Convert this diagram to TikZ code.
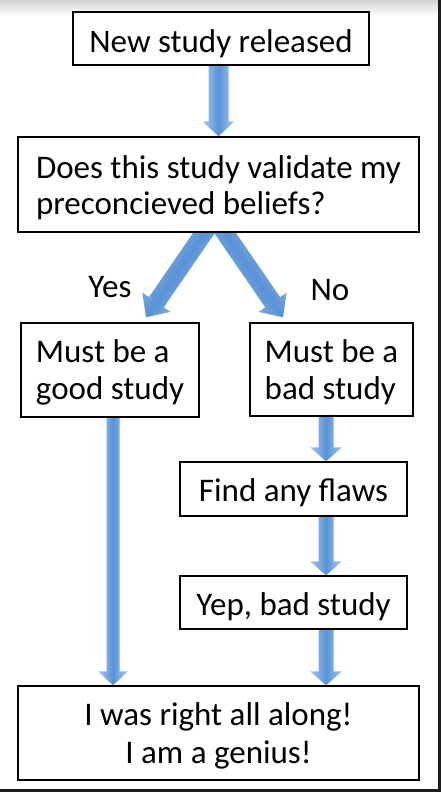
\documentclass[tikz,border=0pt]{standalone}
\usepackage{fontspec}
\setmainfont{Carlito}
\usetikzlibrary{calc,backgrounds}
\definecolor{arrowmid}{RGB}{88,146,214}
\definecolor{arrowedge}{RGB}{168,202,238}
\definecolor{framedark}{RGB}{28,28,28}
\newcommand\blockarrow[5]{%
  \path[arrowbody] let \p1=(#1), \p2=(#2),
    \n1={atan2(\y2-\y1,\x2-\x1)}, \n2={veclen(\x2-\x1,\y2-\y1)} in
    [shading angle=\n1]
    ($(\p1)+(\n1+90:#3pt)$)
    -- ($(\p1)+(\n1:{(\n2-#5)*1pt})+(\n1+90:#3pt)$)
    -- ($(\p1)+(\n1:{(\n2-#5)*1pt})+(\n1+90:#4pt)$)
    -- (\p2)
    -- ($(\p1)+(\n1:{(\n2-#5)*1pt})+(\n1-90:#4pt)$)
    -- ($(\p1)+(\n1:{(\n2-#5)*1pt})+(\n1-90:#3pt)$)
    -- ($(\p1)+(\n1-90:#3pt)$) -- cycle;}
% first-line height and last-line depth struts (fix vertical text placement)
\newcommand\tstrut[1]{\rule{0pt}{#1pt}}
\newcommand\bstrut{\rule[-10pt]{0pt}{0pt}}
\tikzset{
  box/.style={draw=black, line width=1.4pt, fill=white, inner sep=0pt,
    font=\fontsize{33}{36.5}\selectfont},
  leftbox/.style={box, align=left},
  centerbox/.style={box, align=center},
  answer/.style={inner sep=0pt, font=\fontsize{33}{36.5}\selectfont},
  arrowbody/.style={left color=arrowedge, right color=arrowedge, middle color=arrowmid}
}
\begin{document}
\begin{tikzpicture}[x=1pt,y=-1pt]
\useasboundingbox (0,0) rectangle (441,792);

% boxes
\node[centerbox, minimum width=296pt, minimum height=53pt] (b1) at (221,38.5)
  {\tstrut{38}New study released\bstrut};
\node[leftbox, minimum width=401pt, minimum height=95pt] (b2) at (218.5,184.5)
  {\tstrut{33.5}Does this study validate my\\preconcieved beliefs?\bstrut};
\node[leftbox, minimum width=178pt, minimum height=94pt] (b3) at (110,370)
  {\tstrut{32}Must be a\\good study\bstrut};
\node[leftbox, minimum width=163pt, minimum height=93pt] (b4) at (331.5,369.5)
  {\tstrut{33}Must be a\\bad study\bstrut};
\node[centerbox, minimum width=227pt, minimum height=54pt] (b5) at (293.5,489)
  {\tstrut{34}Find any flaws\bstrut};
\node[centerbox, minimum width=227pt, minimum height=53pt] (b6) at (293.5,602.5)
  {\tstrut{35}Yep, bad study\bstrut};
\node[centerbox, minimum width=401pt, minimum height=94pt,
      font=\fontsize{33}{38}\selectfont] (b7) at (218.5,733)
  {\tstrut{32}I was right all along!\\I am a genius!\bstrut};

\node[answer] (yes) at (110,287) {Yes};
\node[answer] (no) at (330,290) {No};

% connector end points
\coordinate (l1) at ($(b3.south)+(3,0)$);
\coordinate (l2) at (l1 |- b7.north);
\coordinate (r1) at ($(b4.south)+(-5.5,0)$);
\coordinate (r2) at (r1 |- b5.north);
\coordinate (r3) at (r1 |- b5.south);
\coordinate (r4) at (r1 |- b6.north);
\coordinate (r5) at (r1 |- b6.south);
\coordinate (r6) at (r1 |- b7.north);
\coordinate (t1) at (b1.south -| b2.north);
\coordinate (ys) at ($(b2.south)+(-7.5,-10)$);
\coordinate (ye) at ($(b3.north)+(36,-5)$);
\coordinate (ns) at ($(b2.south)+(-0.5,-10)$);
\coordinate (ne) at ($(b4.north)+(-48.5,-5)$);

\begin{pgfonlayer}{background}
\fill[white] (0,0) rectangle (441,792);
\shade[top color=black!17, bottom color=white] (0,0) rectangle (441,16);
\fill[framedark] (438,0) rectangle (441,792);
\fill[framedark] (0,789) rectangle (441,792);
% block arrows
\blockarrow{t1}{b2.north}{10}{16}{15}
\blockarrow{ys}{ye}{9}{17}{18}
\blockarrow{ns}{ne}{9}{17}{18}
\blockarrow{l1}{l2}{6.5}{15}{14}
\blockarrow{r1}{r2}{7.5}{16}{14}
\blockarrow{r3}{r4}{7.5}{16}{14}
\blockarrow{r5}{r6}{7.5}{16}{14}
\end{pgfonlayer}
\end{tikzpicture}
\end{document}
